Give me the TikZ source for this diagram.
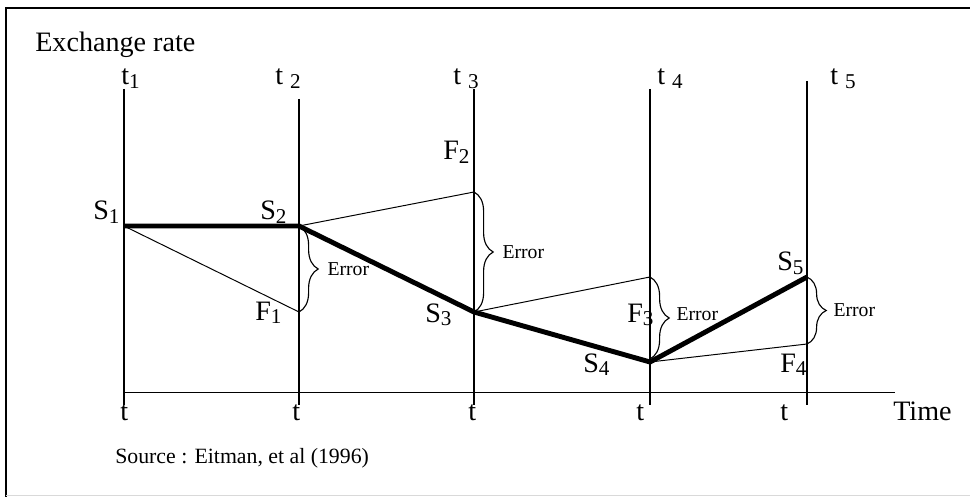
\documentclass[tikz,border=0pt]{standalone}
\usepackage{fontspec}
\setmainfont{Liberation Serif}
\usetikzlibrary{decorations.pathreplacing,calc}
\tikzset{
  px/.style={x=0.025cm,y=-0.025cm},
  tline/.style={line width=0.8pt},
  tlinebold/.style={line width=2pt},
  spotpath/.style={line width=3.5pt,line join=miter},
  fwdline/.style={line width=0.7pt},
  errbrace/.style={decorate,decoration={brace,amplitude=0.48cm},line width=0.8pt},
  lbl/.style={inner sep=0pt,anchor=base west,font=\fontsize{20}{24}\selectfont},
  errlbl/.style={inner sep=0pt,anchor=west,font=\fontsize{14}{16}\selectfont},
  srclbl/.style={inner sep=0pt,anchor=base west,font=\fontsize{15.5}{18}\selectfont},
}
\newcommand{\subnum}[1]{\raisebox{-0.12em}{\fontsize{15}{15}\selectfont #1}}

\begin{document}
\begin{tikzpicture}[px]
  \useasboundingbox (0,0) rectangle (970,497);
  % frame
  \draw[line width=1.6pt] (6,497) -- (6,8) -- (970,8);
  \draw[black!15,line width=1pt] (6,495.5) -- (970,495.5);

  % time lines
  \foreach \n/\x/\top/\st in {1/124/89/tlinebold,2/299/99/tline,3/474/89/tline,
      4/650/89/tlinebold,5/807/81/tlinebold}{
    \coordinate (top\n) at (\x,\top);
    \coordinate (bot\n) at (\x,405);
    \draw[\st] (top\n) -- (bot\n);
  }
  \coordinate (origin) at (124,392);
  \coordinate (tend) at (895,392);
  \draw[fwdline] (origin) -- (tend);

  % labels of the time lines
  \node[lbl] (tl1) at (121,85) {t\subnum{1}};
  \foreach \n/\x in {2/275,3/453,4/657,5/830}
    \node[lbl] (tl\n) at (\x,85) {t \subnum{\n}};
  \foreach \n/\x in {1/120,2/292,3/468,4/636,5/780}
    \node[lbl] (tb\n) at (\x,420) {t};
  \node[lbl] (time) at (893,420) {Time};
  \node[lbl] (yaxis) at (35,52) {Exchange rate};

  % spot and forward rates
  \coordinate (S1) at (124,226);
  \coordinate (S2) at (299,226);
  \coordinate (S3) at (474,312);
  \coordinate (S4) at (650,362);
  \coordinate (S5) at (807,277);
  \coordinate (F1) at (299,312);
  \coordinate (F2) at (474,192);
  \coordinate (F3) at (650,277);
  \coordinate (F4) at (807,344);
  \coordinate (E3) at (650,359);

  \draw[fwdline] (S1) -- (F1);
  \draw[fwdline] (S2) -- (F2);
  \draw[fwdline] (S3) -- (F3);
  \draw[fwdline] (S4) -- (F4);
  \draw[spotpath] (S1) -- (S2) -- (S3) -- (S4) -- (S5);

  % errors
  \draw[errbrace] (S2) -- (F1) node[errlbl,midway,xshift=0.7cm] (err1) {Error};
  \draw[errbrace] (F2) -- (S3) node[errlbl,midway,xshift=0.7cm] (err2) {Error};
  \draw[errbrace] (F3) -- (E3) node[errlbl,midway,xshift=0.65cm,yshift=0.1cm] (err3) {Error};
  \draw[errbrace] (S5) -- (F4) node[errlbl,midway,xshift=0.65cm] (err4) {Error};

  \node[lbl] (s1) at (93,220) {S\subnum{1}};
  \node[lbl] (s2) at (260,220) {S\subnum{2}};
  \node[lbl] (s3) at (425,322) {S\subnum{3}};
  \node[lbl] (s4) at (583,372) {S\subnum{4}};
  \node[lbl] (s5) at (777,271) {S\subnum{5}};
  \node[lbl] (f1) at (255,320) {F\subnum{1}};
  \node[lbl] (f2) at (443,160) {F\subnum{2}};
  \node[lbl] (f3) at (627,322) {F\subnum{3}};
  \node[lbl] (f4) at (780,372) {F\subnum{4}};

  \node[srclbl] (src) at (115,463) {Source : Eitman, et al (1996)};
\end{tikzpicture}
\end{document}
